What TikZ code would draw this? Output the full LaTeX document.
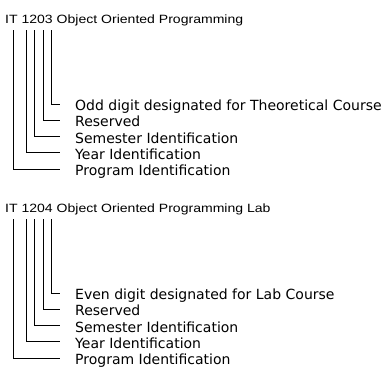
\documentclass[tikz,border=0pt]{standalone}
\usepackage{fontspec}
\setmainfont{Liberation Sans}
\newfontfamily\titlefont[FakeStretch=1.17]{Liberation Sans}
\newfontfamily\fieldfont{DejaVu Sans}
\usetikzlibrary{positioning}

\tikzset{
	course/.style={anchor=base west, inner sep=0pt, font=\titlefont\fontsize{12}{14}\selectfont},
	field/.style={inner sep=0pt, text height=13pt, text depth=0pt, font=\fieldfont\fontsize{14}{16}\selectfont},
	lead/.style={line width=0.75pt}
}

\begin{document}
\begin{tikzpicture}[x=1pt, y=-1pt]
	\useasboundingbox (0,0) rectangle (387,367);
	\foreach \b/\dy/\code/\name/\digit in {
		1/0/1203/{Object Oriented Programming}/{Odd digit designated for Theoretical Course},
		2/189/1204/{Object Oriented Programming Lab}/{Even digit designated for Lab Course}} {
		\begin{scope}[yshift=-\dy pt]
			\node[course] (title\b) at (5,23) {IT \code\ \name};
			% one lead per part of the code
			\foreach \i/\x/\y/\txt in {1/13/169/{Program Identification}, 2/26.5/152.75/{Year Identification},
				3/34.5/136.5/{Semester Identification}, 4/43/120.25/{Reserved}, 5/51.5/104/{\digit}} {
				\coordinate (top\b\i) at (\x,30);
				\coordinate (end\b\i) at (60,\y);
				\node[field, right=15pt of end\b\i] (field\b\i) {\txt};
				\draw[lead] (top\b\i) |- (end\b\i);
			}
		\end{scope}
	}
\end{tikzpicture}
\end{document}
